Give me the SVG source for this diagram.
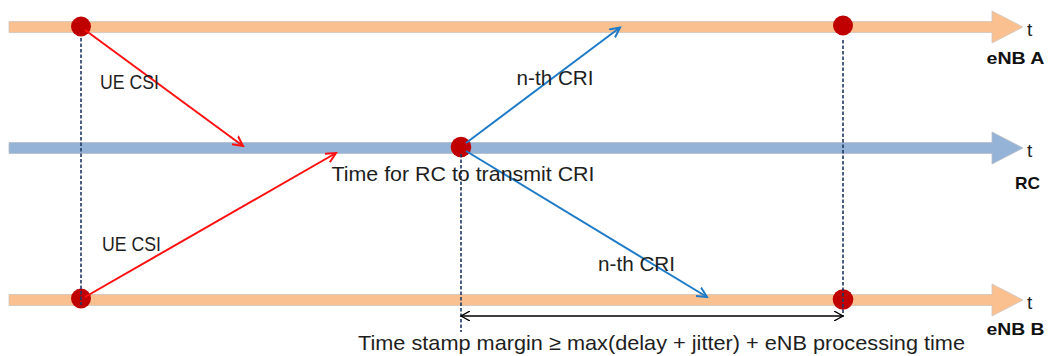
<svg xmlns="http://www.w3.org/2000/svg" width="1049" height="356" viewBox="0 0 1049 356">
<style>
.band-o{fill:#FAC090;stroke:#D0C4BA;stroke-width:0.8}
.band-b{fill:#95B3D7;stroke:#B4BCC6;stroke-width:0.8}
.dot{fill:#C00000}
.dash{stroke:#1F3864;stroke-width:1.6;stroke-dasharray:3.5 2;fill:none}
.red{stroke:#FF1010;stroke-width:2;fill:none}
.blue{stroke:#1F7BC8;stroke-width:2;fill:none}
.dim{stroke:#000;stroke-width:1.3;fill:none}
.lbl{font-family:"Liberation Sans",Arial,sans-serif;font-size:21px;fill:#1e1e1e}
.t{font-family:"Liberation Sans",Arial,sans-serif;font-size:19px;fill:#1e1e1e}
.name{font-family:"Liberation Sans",Arial,sans-serif;font-size:17px;font-weight:bold;fill:#111}
</style>
<defs>
<marker id="ar" markerWidth="12" markerHeight="12" refX="10" refY="5" orient="auto" markerUnits="userSpaceOnUse" viewBox="0 0 12 10">
<path d="M0,0 L10,5 L0,10" fill="none" stroke="#FF1010" stroke-width="2"/>
</marker>
<marker id="ab" markerWidth="12" markerHeight="12" refX="10" refY="5" orient="auto" markerUnits="userSpaceOnUse" viewBox="0 0 12 10">
<path d="M0,0 L10,5 L0,10" fill="none" stroke="#1F7BC8" stroke-width="2"/>
</marker>
<marker id="ak" markerWidth="10" markerHeight="10" refX="9" refY="5" orient="auto-start-reverse" markerUnits="userSpaceOnUse" viewBox="0 0 10 10">
<path d="M0,0 L9,5 L0,10" fill="none" stroke="#000" stroke-width="1.3"/>
</marker>
</defs>

<g id="timeline-enbA">
<polygon class="band-o" points="9,21.5 992,21.5 992,11 1023,27 992,43 992,32.5 9,32.5"/>
<text class="t" x="1027" y="36">t</text>
<text class="name" x="986.5" y="63.5" textLength="58" lengthAdjust="spacingAndGlyphs">eNB A</text>
</g>
<g id="timeline-rc">
<polygon class="band-b" points="9,142.5 992,142.5 992,132 1023,148 992,164 992,153.5 9,153.5"/>
<text class="t" x="1027" y="157">t</text>
<text class="name" x="1015" y="188.5" textLength="25" lengthAdjust="spacingAndGlyphs">RC</text>
</g>
<g id="timeline-enbB">
<polygon class="band-o" points="9,294.5 992,294.5 992,284 1023,300 992,316 992,305.5 9,305.5"/>
<text class="t" x="1027" y="309">t</text>
<text class="name" x="986.5" y="335" textLength="58" lengthAdjust="spacingAndGlyphs">eNB B</text>
</g>

<g id="events">
<circle class="dot" cx="81" cy="26.5" r="10"/>
<circle class="dot" cx="843" cy="25.5" r="10"/>
<circle class="dot" cx="461" cy="147" r="10.3"/>
<circle class="dot" cx="81" cy="298.5" r="10"/>
<circle class="dot" cx="843" cy="299.5" r="10.3"/>
</g>

<g id="connectors">
<line class="dash" x1="81" y1="38" x2="81" y2="305"/>
<line class="dash" x1="843" y1="40" x2="843" y2="317"/>
<line class="dash" x1="461" y1="154" x2="461" y2="332"/>
<line class="red" x1="85" y1="30" x2="243" y2="146" marker-end="url(#ar)"/>
<line class="red" x1="85" y1="297" x2="336" y2="153" marker-end="url(#ar)"/>
<line class="blue" x1="466" y1="143" x2="620" y2="27.5" marker-end="url(#ab)"/>
<line class="blue" x1="466" y1="151" x2="707" y2="297" marker-end="url(#ab)"/>
<line class="dim" x1="461" y1="316" x2="843" y2="316" marker-start="url(#ak)" marker-end="url(#ak)"/>
</g>

<g id="labels">
<text class="lbl" x="100" y="89" textLength="59" lengthAdjust="spacingAndGlyphs">UE CSI</text>
<text class="lbl" x="102" y="251" textLength="59" lengthAdjust="spacingAndGlyphs">UE CSI</text>
<text class="lbl" x="516.5" y="85" textLength="77" lengthAdjust="spacingAndGlyphs">n-th CRI</text>
<text class="lbl" x="598" y="270.5" textLength="77" lengthAdjust="spacingAndGlyphs">n-th CRI</text>
<text class="lbl" x="331.5" y="180.5" textLength="263" lengthAdjust="spacingAndGlyphs">Time for RC to transmit CRI</text>
<text class="lbl" x="358" y="349.5" textLength="607" lengthAdjust="spacingAndGlyphs">Time stamp margin ≥ max(delay + jitter) + eNB processing time</text>
</g>
</svg>
